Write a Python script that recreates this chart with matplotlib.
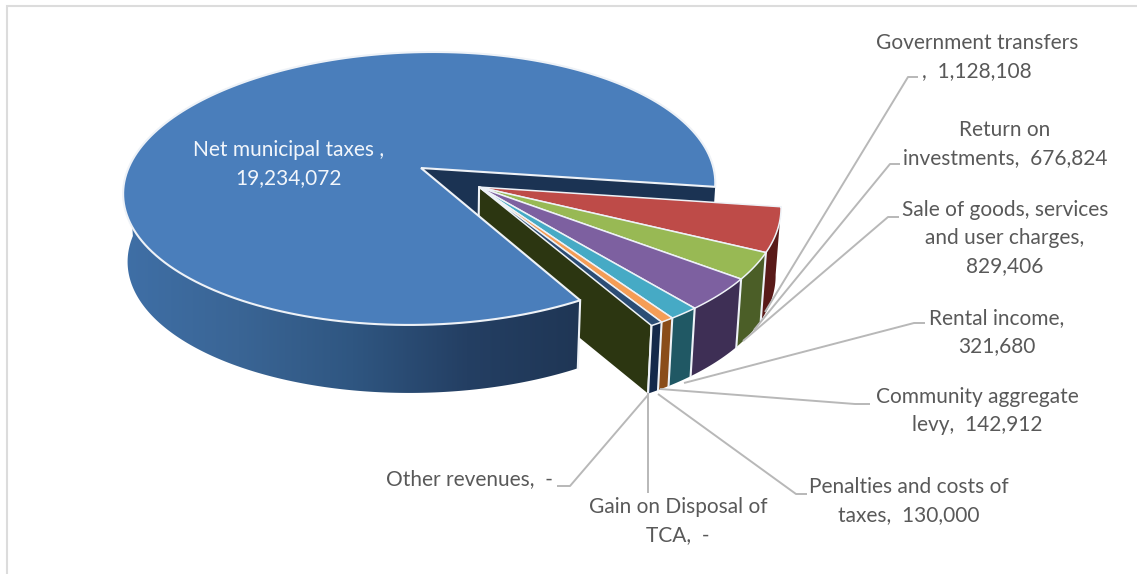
import numpy as np
import matplotlib
matplotlib.use('Agg')
import matplotlib.pyplot as plt
from matplotlib.colors import LinearSegmentedColormap
from matplotlib.patches import Polygon, Rectangle

plt.rcParams['font.family'] = ['Lato', 'DejaVu Sans']

categories = ['Net municipal taxes', 'Government transfers', 'Return on investments',
              'Sale of goods, services and user charges', 'Rental income',
              'Community aggregate levy', 'Penalties and costs of taxes',
              'Gain on Disposal of TCA', 'Other revenues']
values = [19234072, 1128108, 676824, 829406, 321680, 142912, 130000, 0, 0]
label_formats = ['Net municipal taxes ,\n{}', 'Government transfers\n,  {}',
                 'Return on\ninvestments,  {}', 'Sale of goods, services\nand user charges,\n{}',
                 'Rental income,\n{}', 'Community aggregate\nlevy,  {}',
                 'Penalties and costs of\ntaxes,  {}', 'Gain on Disposal of\nTCA,  {}',
                 'Other revenues,  {}']
top_colors = ['#4a7ebb', '#be4b48', '#98b954', '#7d60a0', '#46aac5', '#f59d56', '#2c4d75', '#4a7ebb', '#be4b48']
wall_colors = ['#24436a', '#591a18', '#4b5e27', '#3e2f55', '#205864', '#8a4d1a', '#14294a', '#24436a', '#591a18']

# pie projection settings, all in pixels
cx, cy = 421, 168
rx, ry = 292.5, 133.4
persp = 0.15
shear = 12
depth = 68
low_scale = 0.985
explode = (0.2, 0.14)
start_deg = 59.7
edge = '#eef2f7'


def project(u, v, low=False):
    p = 1 / (1 - persp * v)
    x = rx * u * p - shear * v
    y = ry * v * p
    if low:
        x = x * low_scale
        y = y + depth
    return cx + x, cy + y


def arc(a0, a1, off=(0, 0), low=False):
    t = np.radians(np.linspace(a0, a1, 200))
    return project(np.cos(t) + off[0], np.sin(t) + off[1], low)


def pts(x, y):
    return np.column_stack([x, y])


fig = plt.figure(figsize=(11.37, 5.74), dpi=100)
ax = fig.add_axes([0, 0, 1, 1])
ax.set_xlim(0, 1137)
ax.set_ylim(574, 0)
ax.axis('off')

ax.add_patch(Rectangle((7, 6), 1140, 600, fc='white', ec='#dcdcdc', lw=1.5, zorder=0))

sweeps = np.array(values) / sum(values) * 360
main_end = start_deg + sweeps[0]   # clockwise on screen, past the top
group_start = main_end - 360
group_end = start_deg

# wall of the main slice seen along its cut edge
ex, ey = arc(group_start, group_start)
ax_, ay_ = project(0.0, 0.0)
lx, ly = project(0.0, 0.0, True)
ex2, ey2 = arc(group_start, group_start, low=True)
ax.add_patch(Polygon([(ax_, ay_), (ex[0], ey[0]), (ex2[0], ey2[0]), (lx, ly)], fc='#1b3353', ec='none', zorder=1))

# inside wall of the exploded group, left side
gx, gy = project(*explode)
gx2, gy2 = project(*explode, low=True)
bx, by = arc(group_end, group_end, explode)
bx2, by2 = arc(group_end, group_end, explode, True)
ax.add_patch(Polygon([(gx, gy), (bx[0], by[0]), (bx2[0], by2[0]), (gx2, gy2)], fc='#2c3611', ec='none', zorder=2))
ax.plot([gx, gx2], [gy, gy2], color=edge, lw=1.5, zorder=2.5)
ax.plot([bx[0], bx2[0]], [by[0], by2[0]], color=edge, lw=1.5, zorder=2.5)

# outer wall of the main slice with its horizontal shading
tx, ty = arc(start_deg, 180)
tx2, ty2 = arc(start_deg, 180, low=True)
wall = pts(np.r_[tx, tx2[::-1]], np.r_[ty, ty2[::-1]])
patch = Polygon(wall, fc='none', ec='none', zorder=3)
ax.add_patch(patch)
cmap = LinearSegmentedColormap.from_list('w', ['#3f6fa6', '#3a6595', '#2f5681', '#243f63', '#1f3655'])
im = ax.imshow(np.linspace(0, 1, 256).reshape(1, -1), extent=(124, 582, 574, 0), cmap=cmap,
               aspect='auto', zorder=3)
im.set_clip_path(patch)
ax.plot([tx[0], tx2[0]], [ty[0], ty2[0]], color=edge, lw=1.5, zorder=3.1)

# main slice top
mx, my = arc(start_deg, main_end)
top = pts(np.r_[ax_, mx], np.r_[ay_, my])
ax.add_patch(Polygon(top, fc=top_colors[0], ec=edge, lw=1.5, joinstyle='miter', zorder=4))

# exploded slices: outer walls then tops
angle = group_start
for i in range(1, len(values)):
    if values[i] == 0:
        continue
    a0, a1 = angle, angle + sweeps[i]
    angle = a1
    ox, oy = arc(a0, a1, explode)
    ox2, oy2 = arc(a0, a1, explode, True)
    ax.add_patch(Polygon(pts(np.r_[ox, ox2[::-1]], np.r_[oy, oy2[::-1]]), fc=wall_colors[i], ec='none', zorder=5))
    ax.plot([ox[-1], ox2[-1]], [oy[-1], oy2[-1]], color=edge, lw=1.5, zorder=5.1)
    ax.add_patch(Polygon(pts(np.r_[gx, ox], np.r_[gy, oy]), fc=top_colors[i], ec=edge, lw=1.1,
                         joinstyle='miter', zorder=6))

# leader lines, each with a short stub by its label
leaders = {
    1: [(918, 77), (908, 77), (765, 312)],
    2: [(900, 164), (890, 164), (754, 330)],
    3: [(899, 217), (888, 217), (743, 341)],
    4: [(925, 323), (914, 323), (684, 383)],
    5: [(870, 404), (855, 404), (660, 389)],
    6: [(807, 494), (796, 494), (658, 394)],
    7: [(648, 493), (648, 393)],
    8: [(557, 486), (570, 486), (648, 395)],
}
for pos in leaders.values():
    ax.plot(*zip(*pos), color='#b8b8b8', lw=1.4, zorder=7, solid_capstyle='butt')

# data labels
label_pos = [(289, 164, 'center'), (977, 57, 'center'), (1005, 144, 'center'), (1005, 238, 'center'),
             (997, 332, 'center'), (977, 411, 'center'), (909, 501, 'center'), (678, 521, 'center'),
             (386, 479, 'left')]
for i, v in enumerate(values):
    txt = label_formats[i].format(f'{v:,}' if v else '-')
    x, y, ha = label_pos[i]
    ax.text(x, y, txt, ha=ha, va='center', multialignment='center', fontsize=15, linespacing=1.48,
            color='#f2f6fb' if i == 0 else '#595959', zorder=8)

fig.savefig('out.png', dpi=100, facecolor='white')
